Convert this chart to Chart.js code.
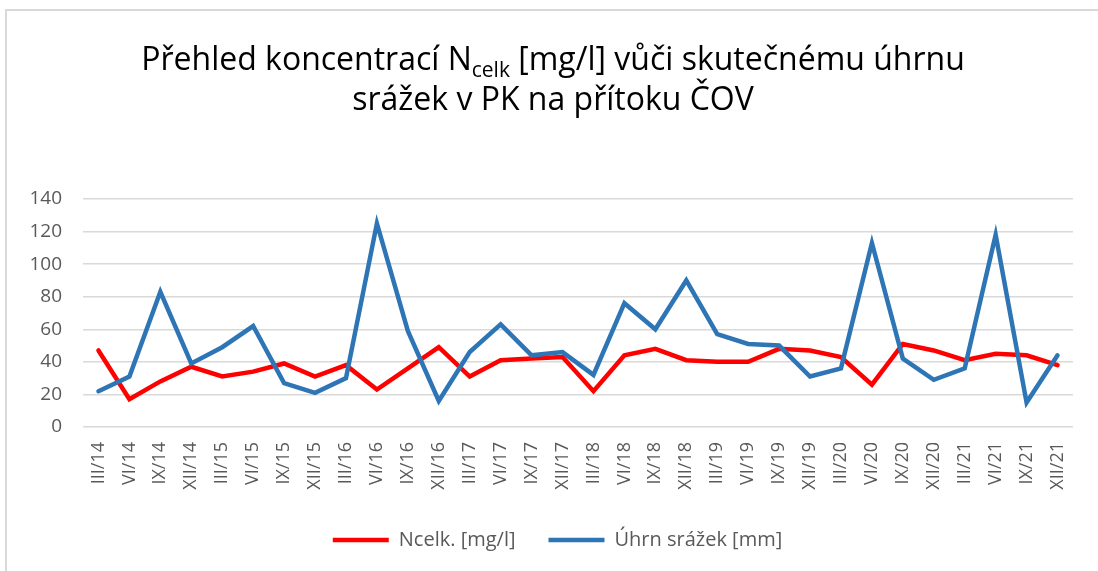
<!DOCTYPE html>
<html>
<head>
<meta charset="utf-8">
<script src="https://cdn.jsdelivr.net/npm/chart.js@4.4.1/dist/chart.umd.min.js"></script>
<style>
  body { margin: 0; background: #fff; }
  #frame { position: absolute; left: 5px; top: 9px; right: 0; bottom: 0;
           border-left: 2px solid #d9d9d9; border-top: 2px solid #d9d9d9; }
  #chart { position: absolute; left: 0; top: 0; }
</style>
</head>
<body>
<div id="frame"></div>
<canvas id="chart" width="1098" height="571"></canvas>
<script>
// quarters 2014 - 2021
const quarters = [
  'III/14', 'VI/14', 'IX/14', 'XII/14',
  'III/15', 'VI/15', 'IX/15', 'XII/15',
  'III/16', 'VI/16', 'IX/16', 'XII/16',
  'III/17', 'VI/17', 'IX/17', 'XII/17',
  'III/18', 'VI/18', 'IX/18', 'XII/18',
  'III/19', 'VI/19', 'IX/19', 'XII/19',
  'III/20', 'VI/20', 'IX/20', 'XII/20',
  'III/21', 'VI/21', 'IX/21', 'XII/21',
];

const ncelk = [47, 17, 28, 37, 31, 34, 39, 31, 38, 23, 36, 49, 31, 41, 42, 43,
  22, 44, 48, 41, 40, 40, 48, 47, 43, 26, 51, 47, 41, 45, 44, 38];
const srazky = [22, 31, 83, 39, 49, 62, 27, 21, 30, 125, 59, 16, 46, 63, 44, 46,
  32, 76, 60, 90, 57, 51, 50, 31, 36, 113, 42, 29, 36, 118, 15, 44];

const yTicks = [0, 20, 40, 60, 80, 100, 120, 140];

const FONT = "'Open Sans', 'DejaVu Sans', sans-serif";
const GREY = '#595959';

// title with subscript, Chart.js title cannot do that
const titlePlugin = {
  id: 'subTitle',
  afterDraw(chart) {
    const ctx = chart.ctx;
    const cx = 553;
    const size = 32;
    const subSize = 21;
    ctx.save();
    ctx.fillStyle = '#000';
    ctx.textBaseline = 'alphabetic';
    ctx.textAlign = 'left';

    const a = 'Přehled koncentrací N';
    const sub = 'celk';
    const b = ' [mg/l] vůči skutečnému úhrnu';
    ctx.font = size + 'px ' + FONT;
    const wa = ctx.measureText(a).width;
    const wb = ctx.measureText(b).width;
    ctx.font = subSize + 'px ' + FONT;
    const ws = ctx.measureText(sub).width;
    let x = cx - (wa + ws + wb) / 2;
    ctx.font = size + 'px ' + FONT;
    ctx.fillText(a, x, 70);
    x += wa;
    ctx.font = subSize + 'px ' + FONT;
    ctx.fillText(sub, x, 77);
    x += ws;
    ctx.font = size + 'px ' + FONT;
    ctx.fillText(b, x, 70);

    ctx.textAlign = 'center';
    ctx.fillText('srážek v PK na přítoku ČOV', cx, 110);
    ctx.restore();
  }
};

// the legend in the original sits a bit right of the plot centre
const legendShift = {
  id: 'legendShift',
  afterLayout(chart) {
    chart.legend.left += 21;
    chart.legend.right += 21;
  }
};

const ctx = document.getElementById('chart').getContext('2d');

new Chart(ctx, {
  type: 'line',
  data: {
    labels: quarters,
    datasets: [
      {
        label: 'Ncelk. [mg/l]',
        data: ncelk,
        borderColor: '#ff0000',
        backgroundColor: '#ff0000',
        borderWidth: 4.5,
        borderCapStyle: 'round',
        pointRadius: 0,
        tension: 0,
        order: 1,
      },
      {
        label: 'Úhrn srážek [mm]',
        data: srazky,
        borderColor: '#2e75b6',
        backgroundColor: '#2e75b6',
        borderWidth: 4.5,
        borderCapStyle: 'round',
        pointRadius: 0,
        tension: 0,
        order: 0,
      },
    ],
  },
  options: {
    responsive: false,
    animation: false,
    layout: { padding: { top: 199, left: 0, right: 25, bottom: 11 } },
    plugins: {
      title: { display: false },
      tooltip: { enabled: false },
      legend: {
        position: 'bottom',
        labels: {
          usePointStyle: true,
          pointStyle: 'line',
          pointStyleWidth: 56,
          boxHeight: 20,
          padding: 33,
          color: GREY,
          font: { family: FONT, size: 20 },
          sort: (a, b) => a.datasetIndex - b.datasetIndex,
        },
      },
    },
    scales: {
      x: {
        offset: true,
        grid: { display: false },
        border: { display: false },
        ticks: {
          minRotation: 90,
          maxRotation: 90,
          autoSkip: false,
          padding: 7,
          color: GREY,
          font: { family: FONT, size: 18 },
        },
        afterFit(scale) { scale.height = 70; },
      },
      y: {
        min: 0,
        max: 140,
        afterBuildTicks(scale) { scale.ticks = yTicks.map(v => ({ value: v })); },
        grid: { color: '#d9d9d9', lineWidth: 1.5, drawTicks: false },
        border: { display: false },
        ticks: {
          padding: 21,
          color: GREY,
          font: { family: FONT, size: 19 },
        },
        afterFit(scale) { scale.width = 83; },
      },
    },
  },
  plugins: [titlePlugin, legendShift],
});
</script>
</body>
</html>
